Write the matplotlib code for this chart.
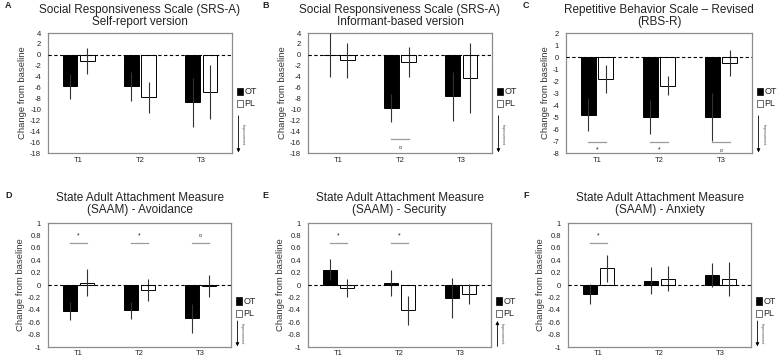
import matplotlib
matplotlib.use("Agg")
import matplotlib.pyplot as plt
import numpy as np

plt.rcParams['font.family'] = ['Liberation Sans', 'DejaVu Sans']

timepoints = ["T1", "T2", "T3"]

# Panel A: SRS-A self-report
a_ot = [-5.8, -5.8, -8.7]
a_ot_se = [2.3, 2.6, 4.5]
a_pl = [-1.1, -7.8, -6.8]
a_pl_se = [2.4, 2.8, 5.0]

# Panel B: SRS-A informant
b_ot = [0.0, -9.7, -7.6]
b_ot_se = [4.0, 2.6, 4.5]
b_pl = [-1.0, -1.3, -4.3]
b_pl_se = [3.2, 2.8, 6.4]

# Panel C: RBS-R
c_ot = [-4.8, -5.0, -5.0]
c_ot_se = [1.4, 1.4, 2.0]
c_pl = [-1.85, -2.4, -0.5]
c_pl_se = [1.15, 0.8, 1.05]

# Panel D: SAAM avoidance
d_ot = [-0.42, -0.41, -0.54]
d_ot_se = [0.15, 0.14, 0.24]
d_pl = [0.04, -0.08, -0.02]
d_pl_se = [0.22, 0.18, 0.18]

# Panel E: SAAM security
e_ot = [0.25, 0.03, -0.21]
e_ot_se = [0.17, 0.21, 0.32]
e_pl = [-0.05, -0.41, -0.15]
e_pl_se = [0.14, 0.23, 0.16]

# Panel F: SAAM anxiety
f_ot = [-0.15, 0.07, 0.16]
f_ot_se = [0.16, 0.22, 0.2]
f_pl = [0.27, 0.1, 0.1]
f_pl_se = [0.22, 0.2, 0.27]

panels = [
    dict(letter="A", title="Social Responsiveness Scale (SRS-A)\nSelf-report version",
         ot=a_ot, ot_se=a_ot_se, pl=a_pl, pl_se=a_pl_se,
         ylim=(-18, 4), step=2, sig={}, sig_y=None, arrow_up=False),
    dict(letter="B", title="Social Responsiveness Scale (SRS-A)\nInformant-based version",
         ot=b_ot, ot_se=b_ot_se, pl=b_pl, pl_se=b_pl_se,
         ylim=(-18, 4), step=2, sig={1: "°"}, sig_y=(-15.5, -16.9), arrow_up=False),
    dict(letter="C", title="Repetitive Behavior Scale \u2013 Revised\n(RBS-R)",
         ot=c_ot, ot_se=c_ot_se, pl=c_pl, pl_se=c_pl_se,
         ylim=(-8, 2), step=1, sig={0: "*", 1: "*", 2: "°"}, sig_y=(-7.1, -7.75), arrow_up=False),
    dict(letter="D", title="State Adult Attachment Measure\n(SAAM) - Avoidance",
         ot=d_ot, ot_se=d_ot_se, pl=d_pl, pl_se=d_pl_se,
         ylim=(-1, 1), step=0.2, sig={0: "*", 1: "*", 2: "°"}, sig_y=(0.68, 0.8), arrow_up=False),
    dict(letter="E", title="State Adult Attachment Measure\n(SAAM) - Security",
         ot=e_ot, ot_se=e_ot_se, pl=e_pl, pl_se=e_pl_se,
         ylim=(-1, 1), step=0.2, sig={0: "*", 1: "*"}, sig_y=(0.68, 0.8), arrow_up=True),
    dict(letter="F", title="State Adult Attachment Measure\n(SAAM) - Anxiety",
         ot=f_ot, ot_se=f_ot_se, pl=f_pl, pl_se=f_pl_se,
         ylim=(-1, 1), step=0.2, sig={0: "*"}, sig_y=(0.68, 0.8), arrow_up=False),
]

W, H = 778, 360
fig = plt.figure(figsize=(W / 100, H / 100), dpi=100)

# axes boxes in pixels: (left, top, width, height)
boxes = [(48, 33, 184, 120), (308, 33, 184, 120), (566, 33, 186, 120),
         (48, 223, 183, 124), (308, 223, 183, 124), (568, 223, 183, 124)]
legend_y = [(0.51, 0.41)] * 3 + [(0.37, 0.27)] * 3
arrow_top = [0.31] * 3 + [0.21] * 3

txtc = "#222222"
spinec = "#8c8c8c"
x = np.arange(1, 4)
bw = 0.24
off = 0.14

for i, (p, b) in enumerate(zip(panels, boxes)):
    l, t, w, h = b
    ax = fig.add_axes([l / W, 1 - (t + h) / H, w / W, h / H])
    ax.bar(x - off, p["ot"], bw, color="black", edgecolor="black", lw=0.7, zorder=2)
    ax.bar(x + off, p["pl"], bw, color="white", edgecolor="black", lw=0.7, zorder=2)
    ax.errorbar(x - off, p["ot"], yerr=p["ot_se"], fmt="none", ecolor="#333333",
                elinewidth=0.8, capsize=0, zorder=3)
    ax.errorbar(x + off, p["pl"], yerr=p["pl_se"], fmt="none", ecolor="#333333",
                elinewidth=0.8, capsize=0, zorder=3)
    ax.axhline(0, color="black", lw=0.8, ls=(0, (3, 2.2)), zorder=4)
    lo, hi = p["ylim"]
    ax.set_ylim(lo, hi)
    ax.set_xlim(0.5, 3.5)
    ticks = np.round(np.arange(lo, hi + p["step"] / 2, p["step"]), 2)
    ax.set_yticks(ticks)
    ax.set_yticklabels(["%g" % v if abs(v) > 1e-9 else "0" for v in ticks])
    ax.set_xticks(x)
    ax.set_xticklabels(timepoints)
    ax.tick_params(axis="both", length=0, labelsize=5.5, colors=txtc, pad=5)
    ax.tick_params(axis="x", pad=3 if i < 3 else 2)
    for s in ax.spines.values():
        s.set_color(spinec)
        s.set_linewidth(0.9)
    ax.set_ylabel("Change from baseline", fontsize=6.8, color="#333333", labelpad=2)

    for k, mark in p["sig"].items():
        ly, my = p["sig_y"]
        ax.plot([x[k] - off, x[k] + off], [ly, ly], color="#9a9a9a", lw=0.9, zorder=3)
        if mark == "*":
            ax.text(x[k], my, "*", ha="center", va="center", fontsize=5, color=txtc)
        else:
            ax.text(x[k], my, "o", ha="center", va="center", fontsize=3.8, color=txtc)

    # title
    ax.text(0.5, 1.0 + (5 if i < 3 else 7) / h, p["title"], transform=ax.transAxes,
            ha="center", va="bottom", fontsize=8.5, color=txtc, linespacing=1.0)
    # panel letter
    lx = [5, 262, 523][i % 3]
    ly_ = 6 if i < 3 else 196
    fig.text(lx / W, 1 - ly_ / H, p["letter"], fontsize=6.5, fontweight="bold",
             ha="left", va="center", color=txtc)

    # legend
    oy, py = legend_y[i]
    ax.add_patch(plt.Rectangle((1.028, oy - 0.03), 0.03, 0.06, transform=ax.transAxes,
                               facecolor="black", edgecolor="black", lw=0.5, clip_on=False))
    ax.add_patch(plt.Rectangle((1.028, py - 0.03), 0.03, 0.06, transform=ax.transAxes,
                               facecolor="white", edgecolor="#333333", lw=0.5, clip_on=False))
    ax.text(1.068, oy, "OT", transform=ax.transAxes, fontsize=6.5, va="center", color=txtc)
    ax.text(1.068, py, "PL", transform=ax.transAxes, fontsize=6.5, va="center", color=txtc)

    # improvement arrow
    ya, yb = (arrow_top[i], 0.005)
    if p["arrow_up"]:
        ya, yb = yb, ya
    ax.annotate("", xy=(1.035, yb), xytext=(1.035, ya), xycoords="axes fraction",
                arrowprops=dict(arrowstyle="-|>", lw=0.6, color="black", mutation_scale=5,
                                shrinkA=0, shrinkB=0))
    ax.text(1.06, arrow_top[i] / 2, "Improvement", transform=ax.transAxes, rotation=-90,
            fontsize=2.6, ha="center", va="center", color="#444444")

fig.savefig("out.png", dpi=100)
